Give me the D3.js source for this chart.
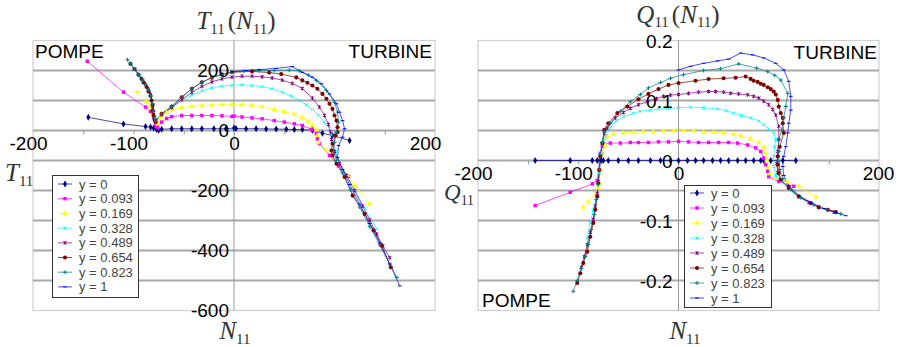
<!DOCTYPE html>
<html><head><meta charset="utf-8">
<script src="https://cdn.jsdelivr.net/npm/d3@7/dist/d3.min.js"></script>
<style>body{margin:0;background:#fff}svg{display:block}</style>
</head><body>
<svg id="c" width="899" height="347"></svg>
<script>
// ---------- data ----------
const seriesNames = ["y = 0","y = 0.093","y = 0.169","y = 0.328","y = 0.489","y = 0.654","y = 0.823","y = 1"];
const seriesColors = ["#000080","#FF00FF","#FFFF00","#00FFFF","#800080","#800000","#008080","#0000FF"];
const markerTypes = ["diamond","square","triangle","x","star","circle","plus","dash"];
const xTickLabels = [-200,-100,0,200];
const torqueTickLabels = [200,0,-200,-400,-600];
const flowTickLabels = [0.2,0.1,0,-0.1,-0.2];

// T11(N11): [N11, T11]
const torque_y0 = [[-145,44],[-110,22],[-88,13],[-83,11],[-80,8],[-77,3],[-75,1],[-72,4],[-62,6],[-52,6],[-42,6],[-32,6],[-20,6],[-8,6],[0,8],[2,7],[12,6],[22,6],[32,5],[42,5],[52,4],[60,3],[68,3],[78,1],[88,-9],[98,-17],[115,-33]];
const torque_y093 = [[-146,231],[-110,128],[-88,78],[-83,63],[-80,44],[-78,17],[-76,10],[-72,28],[-67,40],[-62,46],[-52,50],[-42,50],[-32,50],[-22,50],[-12,49],[-2,47],[0,48],[8,45],[18,42],[28,39],[40,33],[50,28],[60,22],[68,17],[77,4],[82,-11],[83,-28],[85,-44],[95,-83],[104,-118],[114,-153]];
const torque_y169 = [[-96,128],[-87,94],[-83,78],[-80,50],[-78,28],[-76,22],[-73,44],[-67,60],[-62,70],[-52,77],[-42,81],[-32,83],[-22,85],[-12,86],[-2,86],[8,86],[18,84],[28,79],[40,70],[50,63],[60,54],[68,43],[74,31],[78,17],[82,2],[83,-17],[84,-41],[92,-67],[103,-110],[113,-150],[120,-183],[135,-244]];
const torque_y328 = [[-93,180],[-89,160],[-86,140],[-84,120],[-82,100],[-81,80],[-80,60],[-79,42],[-77,35],[-72,55],[-62,78],[-52,100],[-42,118],[-32,132],[-22,142],[-12,148],[-2,151],[8,152],[18,150],[28,146],[38,139],[48,128],[57,115],[65,100],[72,86],[78,70],[84,51],[90,28],[95,6],[97,-15],[98,-39],[101,-70],[105,-105],[112,-150],[120,-198],[130,-258],[142,-328]];
const torque_y489 = [[-99,205],[-95,186],[-91,168],[-88,153],[-85,138],[-83,120],[-82,100],[-81,80],[-80,60],[-79,42],[-78,32],[-72,52],[-62,76],[-52,103],[-42,127],[-32,147],[-22,162],[-12,172],[-2,178],[8,181],[18,181],[28,179],[38,175],[48,168],[58,157],[68,140],[78,108],[85,78],[90,50],[94,20],[96,-5],[97,-30],[100,-70],[105,-110],[112,-150],[120,-200],[128,-252],[135,-298],[142,-345],[148,-385],[155,-424]];
const torque_y654 = [[-103,222],[-99,205],[-95,186],[-92,172],[-90,160],[-87,145],[-85,130],[-83,115],[-82,100],[-81,85],[-81,67],[-80,50],[-79,35],[-78,28],[-72,56],[-62,80],[-52,111],[-42,139],[-32,161],[-22,176],[-12,187],[-2,194],[18,197],[35,193],[47,188],[62,177],[68,167],[73,159],[78,150],[83,139],[88,122],[92,106],[95,89],[98,72],[100,50],[102,33],[103,11],[103,-6],[101,-17],[98,-44],[97,-67],[98,-83],[102,-111],[110,-155],[118,-217],[130,-278],[139,-333],[147,-383],[156,-456]];
const torque_y823 = [[-106,236],[-103,222],[-99,205],[-95,186],[-91,168],[-88,153],[-85,135],[-83,115],[-81,90],[-80,65],[-79,40],[-78,30],[-72,56],[-62,80],[-52,111],[-42,139],[-32,161],[-22,176],[-12,187],[-2,195],[10,198],[25,200],[40,200],[55,201],[65,199],[74,185],[82,167],[92,133],[100,94],[103,61],[104,28],[102,-6],[100,-40],[99,-70],[102,-100],[108,-142],[116,-198],[125,-255],[135,-320],[145,-382],[155,-445],[162,-490]];
const torque_y1 = [[-2,196],[12,200],[25,203],[42,207],[58,213],[68,194],[78,178],[87,156],[95,122],[102,89],[105,61],[108,33],[110,6],[108,-22],[104,-50],[103,-90],[108,-130],[115,-180],[125,-245],[135,-310],[145,-375],[155,-445],[165,-518]];

// Q11(N11): [N11, Q11]
const flow_y0 = [[-143,0],[-108,0],[-86,0],[-81,0],[-77,0],[-75,0],[-70,0],[-60,0],[-50,0],[-40,0],[-28,0],[-18,0],[-8,0],[0,0],[9,0],[17,0],[25,0],[34,0],[42,0],[50,0],[59,0],[67,0],[75,0],[82,0],[85,0],[92,0],[104,0],[117,0]];
const flow_y093 = [[-143,-0.075],[-108,-0.053],[-86,-0.039],[-81,-0.033],[-78,0.012],[-76,0.024],[-74,0.028],[-68,0.029],[-58,0.029],[-48,0.030],[-40,0.030],[-30,0.030],[-20,0.031],[-10,0.031],[0,0.032],[10,0.031],[20,0.030],[30,0.030],[40,0.030],[50,0.030],[59,0.029],[69,0.026],[77,0.021],[82,0.015],[85,0.004],[87,-0.007],[89,-0.018],[90,-0.027],[100,-0.035],[115,-0.043]];
const flow_y169 = [[-95,-0.078],[-90,-0.068],[-83,-0.057],[-80,-0.046],[-79,-0.038],[-78,-0.015],[-76,0.012],[-73,0.026],[-71,0.04],[-65,0.044],[-55,0.046],[-45,0.047],[-35,0.048],[-25,0.048],[-15,0.049],[-5,0.0495],[5,0.0495],[15,0.049],[25,0.048],[35,0.047],[45,0.046],[55,0.044],[62,0.041],[72,0.036],[80,0.03],[85,0.022],[87,0.012],[88,0.001],[89,-0.012],[91,-0.022],[97,-0.03],[108,-0.036],[120,-0.043],[137,-0.061]];
const flow_y328 = [[-91,-0.129],[-88,-0.104],[-85,-0.082],[-81,-0.054],[-79,-0.021],[-76,0.012],[-73,0.04],[-68,0.055],[-62,0.066],[-55,0.073],[-45,0.079],[-38,0.082],[-28,0.084],[-20,0.0855],[-10,0.087],[0,0.088],[12,0.089],[25,0.088],[39,0.086],[48,0.083],[55,0.079],[63,0.075],[72,0.071],[80,0.066],[85,0.06],[90,0.053],[95,0.046],[97,0.035],[96,0.023],[95,0.007],[95,-0.01],[97,-0.025],[102,-0.035],[110,-0.048],[120,-0.061],[130,-0.07],[142,-0.079]];
const flow_y489 = [[-97,-0.178],[-94,-0.16],[-91,-0.14],[-88,-0.12],[-85,-0.098],[-83,-0.076],[-81,-0.055],[-80,-0.035],[-79,-0.015],[-78,0.005],[-76,0.028],[-74,0.045],[-71,0.054],[-63,0.071],[-55,0.08],[-48,0.087],[-40,0.093],[-31,0.098],[-22,0.103],[-15,0.107],[-8,0.109],[0,0.11],[10,0.112],[20,0.114],[30,0.115],[37,0.115],[45,0.114],[52,0.112],[60,0.111],[69,0.1095],[75,0.107],[80,0.104],[85,0.099],[90,0.093],[94,0.085],[97,0.076],[100,0.057],[100,0.035],[99,0.015],[98,-0.005],[99,-0.02],[102,-0.032],[110,-0.046],[120,-0.06],[130,-0.07],[140,-0.078],[155,-0.086]];
const flow_y654 = [[-101,-0.204],[-98,-0.188],[-95,-0.171],[-91,-0.152],[-88,-0.127],[-85,-0.104],[-83,-0.082],[-81,-0.06],[-80,-0.038],[-79,-0.016],[-78,0.007],[-76,0.029],[-74,0.051],[-70,0.062],[-61,0.079],[-51,0.09],[-40,0.102],[-30,0.111],[-20,0.119],[-10,0.126],[0,0.129],[17,0.133],[30,0.1357],[45,0.137],[57,0.138],[67,0.14],[72,0.136],[75,0.133],[79,0.131],[82,0.128],[85,0.126],[89,0.122],[92,0.119],[95,0.115],[97,0.11],[99,0.101],[100,0.09],[102,0.079],[104,0.071],[104,0.062],[105,0.046],[101,0.023],[99,0.007],[99,-0.007],[100,-0.021],[102,-0.032],[110,-0.046],[120,-0.06],[132,-0.071],[140,-0.078],[149,-0.082],[157,-0.086]];
const flow_y823 = [[-105,-0.218],[-101,-0.2],[-97,-0.18],[-93,-0.16],[-90,-0.14],[-87,-0.115],[-84,-0.09],[-82,-0.065],[-80,-0.04],[-79,-0.015],[-78,0.01],[-76,0.03],[-74,0.048],[-68,0.062],[-58,0.082],[-48,0.098],[-38,0.11],[-30,0.121],[-18,0.13],[-8,0.137],[5,0.143],[25,0.15],[42,0.153],[60,0.161],[78,0.154],[89,0.148],[96,0.142],[102,0.134],[109,0.112],[107,0.09],[105,0.071],[103,0.051],[100,0.035],[100,0.015],[100,0.0],[101,-0.015],[104,-0.03],[112,-0.048],[122,-0.062],[135,-0.074],[148,-0.082],[162,-0.089]];
const flow_y1 = [[0,0.151],[12,0.157],[25,0.162],[39,0.166],[50,0.169],[62,0.179],[74,0.176],[85,0.171],[97,0.162],[105,0.151],[110,0.132],[112,0.107],[112,0.084],[110,0.062],[109,0.046],[107,0.023],[105,0.007],[104,-0.01],[105,-0.025],[110,-0.042],[120,-0.058],[132,-0.07],[145,-0.08],[157,-0.087],[167,-0.092]];

const torqueSeries = [torque_y0,torque_y093,torque_y169,torque_y328,torque_y489,torque_y654,torque_y823,torque_y1];
const flowSeries = [flow_y0,flow_y093,flow_y169,flow_y328,flow_y489,flow_y654,flow_y823,flow_y1];

// ---------- drawing ----------
const svg = d3.select("#c");
const SANS = "'Liberation Sans', Arial, sans-serif";
const SERIF = "'Liberation Serif', 'Times New Roman', serif";

function marker(g, type, color, x, y) {
  const sym = {diamond:[d3.symbolDiamond,14], square:[d3.symbolSquare,12], triangle:[d3.symbolTriangle,12], circle:[d3.symbolCircle,13]}[type];
  if (sym) {
    g.append("path").attr("d", d3.symbol(sym[0], sym[1])()).attr("transform", `translate(${x},${y})`).attr("fill", color);
  } else {
    const p = {x:"M-1.5,-1.5L1.5,1.5M-1.5,1.5L1.5,-1.5", star:"M-1.5,-1.5L1.5,1.5M-1.5,1.5L1.5,-1.5M0,-2L0,2", plus:"M-2,0L2,0M0,-2L0,2", dash:"M-1.8,0L1.8,0"}[type];
    g.append("path").attr("d", p).attr("transform", `translate(${x},${y})`).attr("stroke", color).attr("stroke-width", 1).attr("fill", "none");
  }
}

function chart(cfg) {
  const x = d3.scaleLinear().domain([-200,200]).range([cfg.left, cfg.right]);
  const y = d3.scaleLinear().domain(cfg.yDomain).range([310.5, 40.5]);
  const g = svg.append("g");
  g.append("rect").attr("x", cfg.left).attr("y", 40.5).attr("width", cfg.right-cfg.left).attr("height", 270)
    .attr("fill", "#fff").attr("stroke", "#d0d0d0").attr("stroke-width", 1.2);
  const grid = d3.range(cfg.yDomain[0], cfg.yDomain[1] + cfg.gridStep/2, cfg.gridStep).filter(v => v > cfg.yDomain[0] + 1e-9 && v < cfg.yDomain[1] - 1e-9);
  g.selectAll(".grid").data(grid).join("line")
    .attr("x1", cfg.left).attr("x2", cfg.right).attr("y1", d => y(d)).attr("y2", d => y(d))
    .attr("stroke", "#a8a8a8").attr("stroke-width", 2);
  g.append("line").attr("x1", x(0)).attr("x2", x(0)).attr("y1", 40.5).attr("y2", 310.5).attr("stroke", "#999").attr("stroke-width", 1);
  const gt = g.append("g").attr("transform", `translate(0,${y(0)})`)
    .call(d3.axisBottom(x).tickValues(d3.range(-150,200,50)).tickSize(4).tickFormat(""));
  gt.select(".domain").remove();
  gt.selectAll("line").attr("stroke", "#999");
  const line = d3.line().x(d => x(d[0])).y(d => y(d[1]));
  cfg.series.forEach((s, i) => {
    g.append("path").datum(s).attr("d", line).attr("fill", "none")
      .attr("stroke", seriesColors[i]).attr("stroke-width", 1).attr("stroke-opacity", 0.7);
  });
  cfg.series.forEach((s, i) => {
    const mg = g.append("g");
    s.forEach(d => marker(mg, markerTypes[i], seriesColors[i], x(d[0]), y(d[1])));
  });
  const gx = g.append("g").attr("transform", `translate(0,${y(0)})`)
    .call(d3.axisBottom(x).tickValues(xTickLabels).tickSize(0).tickPadding(6).tickFormat(d => String(d)));
  gx.select(".domain").remove();
  gx.selectAll("text").attr("font-family", SANS).attr("font-size", 19).attr("fill", "#000")
    .attr("dx", d => d < 0 ? -5 : (d === 200 ? cfg.lastDx : 0));
  const gy = g.append("g").attr("transform", `translate(${x(0)},0)`)
    .call(d3.axisLeft(y).tickValues(cfg.yTicks).tickSize(0).tickPadding(cfg.yPad).tickFormat(d => String(d)));
  gy.select(".domain").remove();
  gy.selectAll("text").attr("font-family", SANS).attr("font-size", 19).attr("fill", "#000").attr("y", cfg.yLabelShift);
  cfg.words.forEach(w => g.append("text").attr("x", w.x).attr("y", w.y).attr("text-anchor", w.anchor)
    .attr("font-family", SANS).attr("font-size", 19).attr("fill", "#000").text(w.t));
  const L = cfg.legend;
  const lg = g.append("g");
  lg.append("rect").attr("x", L.x + 0.5).attr("y", L.y + 0.5).attr("width", L.w).attr("height", L.h)
    .attr("fill", "#fff").attr("stroke", "#333").attr("stroke-width", 1);
  seriesNames.forEach((n, i) => {
    const cy = L.y + L.first + i * L.step;
    lg.append("line").attr("x1", L.x + 6).attr("x2", L.x + 20).attr("y1", cy).attr("y2", cy)
      .attr("stroke", seriesColors[i]).attr("stroke-width", 1).attr("stroke-opacity", 0.7);
    marker(lg, markerTypes[i], seriesColors[i], L.x + 13, cy);
    lg.append("text").attr("x", L.x + 27).attr("y", cy).attr("dy", "0.35em")
      .attr("font-family", SANS).attr("font-size", 13).attr("fill", "#444").text(n);
  });
}

function mathText(x, y, anchor, parts, size, drop) {
  const t = svg.append("text").attr("x", x).attr("y", y).attr("text-anchor", anchor)
    .attr("font-family", SERIF).attr("fill", "#333");
  let shift = 0;
  parts.forEach(p => {
    const sp = t.append("tspan").text(p.t);
    if (p.sub) {
      sp.attr("font-size", size * 0.6).attr("dy", drop - shift); shift = drop;
    } else {
      sp.attr("font-size", size).attr("dy", -shift); shift = 0;
      if (p.it) sp.attr("font-style", "italic");
    }
    if (p.dx) sp.attr("dx", p.dx);
  });
}

chart({
  left: 33, right: 435, yDomain: [-600, 300], gridStep: 100, yTicks: torqueTickLabels, yPad: 5, lastDx: -10, yLabelShift: 0,
  series: torqueSeries,
  words: [{t:"POMPE", x:35, y:58, anchor:"start"}, {t:"TURBINE", x:432, y:58, anchor:"end"}],
  legend: {x:52, y:175, w:86, h:122, first:9, step:14.7}
});
chart({
  left: 478, right: 879, yDomain: [-0.25, 0.2], gridStep: 0.05, yTicks: flowTickLabels, yPad: 6, lastDx: -1, yLabelShift: 1,
  series: flowSeries,
  words: [{t:"POMPE", x:482, y:307, anchor:"start"}, {t:"TURBINE", x:877, y:59, anchor:"end"}],
  legend: {x:684, y:185, w:87, h:122, first:8, step:15}
});

const P = (t, o={}) => Object.assign({t}, o);
mathText(236, 29, "middle", [P("T",{it:true}), P("11",{sub:true}), P("(",{dx:3}), P("N",{it:true}), P("11",{sub:true}), P(")")], 25, 5);
mathText(235, 339, "middle", [P("N",{it:true}), P("11",{sub:true})], 25, 5);
mathText(5, 181, "start", [P("T",{it:true}), P("11",{sub:true})], 25, 5);
mathText(678, 23, "middle", [P("Q",{it:true}), P("11",{sub:true}), P("(",{dx:3}), P("N",{it:true}), P("11",{sub:true}), P(")")], 25, 4);
mathText(685, 339, "middle", [P("N",{it:true}), P("11",{sub:true})], 25, 5);
mathText(444, 200, "start", [P("Q",{it:true}), P("11",{sub:true})], 23, 5);
</script>
</body></html>
